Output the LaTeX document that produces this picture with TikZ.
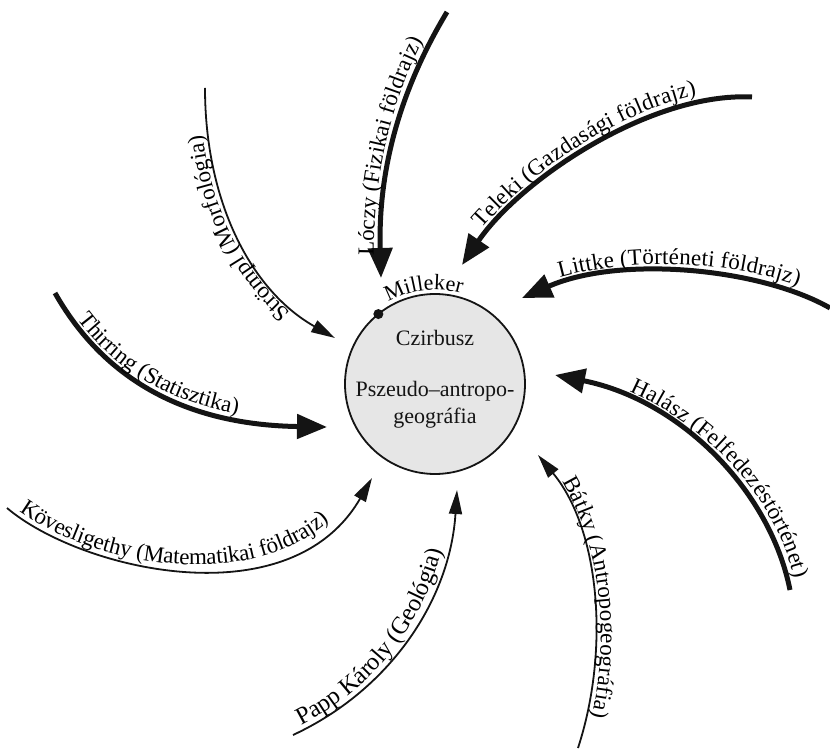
\documentclass[tikz,border=0pt]{standalone}
\usepackage{fontspec}
\setmainfont{Liberation Serif}
\usetikzlibrary{arrows.meta,decorations.text}
\definecolor{ink}{HTML}{141414}
\definecolor{cfill}{HTML}{E6E6E6}
\newcommand\lbl{\fontsize{23}{23}\selectfont}
\newcommand\lblbig{\fontsize{24.5}{24.5}\selectfont}
\newcommand\ctext{\fontsize{22}{27}\selectfont}
\begin{document}
\begin{tikzpicture}[x=1pt,y=1pt,
  thickarrow/.style={line width=5pt, draw=ink, -{Triangle[length=30pt,width=24pt]}},
  thinarrow/.style={line width=1.8pt, draw=ink, -{Triangle[length=24pt,width=13pt]}},
]
\useasboundingbox (0,0) rectangle (830,748);

% central circle
\node[circle, minimum size=180pt, draw=ink, line width=1.8pt, fill=cfill, inner sep=0pt, outer sep=0pt] (c) at (435,364) {};
\node[font=\ctext, text=ink] (czir) at (435,410) {Czirbusz};
\node[font=\ctext, text=ink, align=center] (pszeudo) at (435,343) {Pszeudo–antropo-\\geográfia};
\node[circle, fill=ink, inner sep=0pt, minimum size=10pt] (mdot) at (c.129) {};
\path[decorate, decoration={text along path, text align={left indent=2pt}, text={|\ctext|Milleker}}]
  ([shift={(121:94)}]c.center) arc[start angle=121, end angle=60, radius=94];

% Loczy
\coordinate (lS) at (447,736); \coordinate (lT) at (381,470);
\draw[thickarrow] (lS) .. controls (400,658) and (378,578) .. (lT);
\path[decorate, decoration={text along path, raise=7pt, text align={left indent=22pt}, text={|\lbl|Lóczy (Fizikai földrajz)}}]
  (lT) .. controls (378,578) and (400,658) .. (lS);

% Teleki
\coordinate (tS) at (752,651); \coordinate (tT) at (462,483);
\draw[thickarrow] (tS) .. controls (650,656) and (520,568) .. (tT);
\path[decorate, decoration={text along path, raise=7pt, text align={left indent=40pt}, text={|\lbl|Teleki (Gazdasági földrajz)}}]
  (tT) .. controls (520,568) and (650,656) .. (tS);

% Littke
\coordinate (liS) at (830,440); \coordinate (liT) at (522,450);
\draw[thickarrow] (liS) .. controls (760,480) and (620,493) .. (liT);
\path[decorate, decoration={text along path, raise=7pt, text align={left indent=42pt}, text={|\lbl|Littke (Történeti földrajz)}}]
  (liT) .. controls (620,493) and (760,480) .. (liS);

% Halasz
\coordinate (hS) at (790,158); \coordinate (hT) at (555,373);
\draw[thickarrow] (hS) .. controls (770,258) and (680,348) .. (hT);
\path[decorate, decoration={text along path, raise=7pt, text align={left indent=75pt}, text={|\lbl|Halász (Felfedezéstörténet)}}]
  (hT) .. controls (680,348) and (770,258) .. (hS);

% Batky
\coordinate (bS) at (578,0); \coordinate (bT) at (538,293);
\draw[thinarrow] (bS) .. controls (610,98) and (600,218) .. (bT);
\path[decorate, decoration={text along path, raise=5pt, text align={left indent=35pt}, text={|\lbl|Bátky (Antropogeográfia)}}]
  (bT) .. controls (600,218) and (610,98) .. (bS);

% Papp Karoly
\coordinate (pS) at (293,13); \coordinate (pT) at (457,258);
\draw[thinarrow] (pS) .. controls (390,58) and (450,148) .. (pT);
\path[decorate, decoration={text along path, raise=5pt, text align={left indent=12pt}, text={|\lblbig|Papp Károly (Geológia)}}]
  (pS) .. controls (390,58) and (450,148) .. (pT);

% Kovesligethy
\coordinate (kS) at (7,240); \coordinate (kT) at (372,270);
\draw[thinarrow] (kS) .. controls (80,178) and (290,128) .. (kT);
\path[decorate, decoration={text along path, raise=5pt, text align={left indent=12pt}, text={|\lbl|Kövesligethy (Matematikai földrajz)}}]
  (kS) .. controls (80,178) and (290,128) .. (kT);

% Thirring
\coordinate (thS) at (55,455); \coordinate (thT) at (327,321);
\draw[thickarrow] (thS) .. controls (110,358) and (200,323) .. (thT);
\path[decorate, decoration={text along path, raise=4.5pt, text align={left indent=35pt}, text={|\lbl|Thirring (Statisztika)}}]
  (thS) .. controls (110,358) and (200,323) .. (thT);

% Strompl
\coordinate (sS) at (205,660); \coordinate (sT) at (335,410);
\draw[thinarrow] (sS) .. controls (205,548) and (250,458) .. (sT);
\path[decorate, decoration={text along path, raise=5pt, text align={left indent=50pt}, text={|\lbl|Strömpl (Morfológia)}}]
  (sT) .. controls (250,458) and (205,548) .. (sS);
\end{tikzpicture}
\end{document}
